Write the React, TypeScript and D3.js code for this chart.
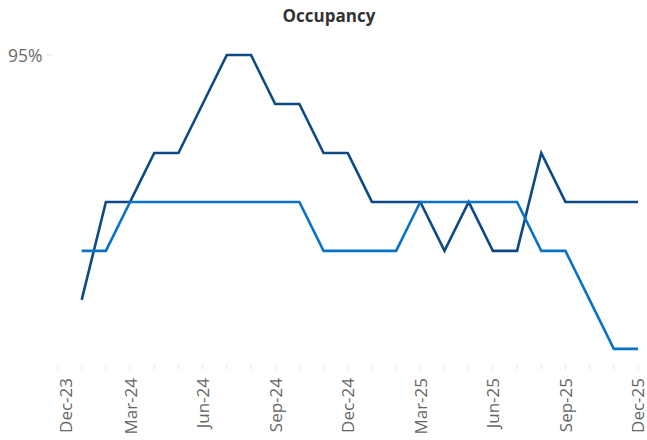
import * as d3 from 'd3';

// Monthly points, Jan-24 .. Dec-25 (index 0..23), Dec-23 = index -1
const monthIdx = d3.range(0, 24);
const seriesDark = [90, 92, 92, 93, 93, 94, 95, 95, 94, 94, 93, 93, 92, 92, 92, 91, 92, 91, 91, 93, 92, 92, 92, 92];
const seriesLight = [91, 91, 92, 92, 92, 92, 92, 92, 92, 92, 91, 91, 91, 91, 92, 92, 92, 92, 92, 91, 91, 90, 89, 89];
const tickLabels = ['Dec-23', 'Mar-24', 'Jun-24', 'Sep-24', 'Dec-24', 'Mar-25', 'Jun-25', 'Sep-25', 'Dec-25'];
const tickIdx = [-1, 2, 5, 8, 11, 14, 17, 20, 23];
const yMax = 95;

const W = 647;
const H = 440;
const font = "'Open Sans', 'DejaVu Sans', sans-serif";

export default function App() {
    const x = d3.scaleLinear().domain([-1, 23]).range([57.5, 638]);
    const y = d3.scaleLinear().domain([88.63, yMax]).range([367, 55]);

    const line = d3.line<number>()
        .x((_d, i) => x(monthIdx[i]))
        .y(d => y(d));

    const axisY = 367;

    return (
        <svg width={W} height={H} style={{ position: 'absolute', left: 0, top: 0, background: '#fff' }}>
            {/* Title */}
            <text x={329} y={22} textAnchor="middle" fontFamily={font} fontSize={17} fontWeight={700} fill="#333">
                Occupancy
            </text>

            {/* Y axis: only the top value is labelled */}
            <text x={8} y={y(yMax)} dominantBaseline="central" fontFamily={font} fontSize={17.5} fill="#6b6b6b">
                {yMax}%
            </text>
            <line x1={47} x2={52} y1={y(yMax)} y2={y(yMax)} stroke="#e3e3e3" />

            {/* Monthly tick marks */}
            {d3.range(-1, 24).map(i => (
                <line key={i} x1={x(i)} x2={x(i)} y1={axisY - 2} y2={axisY + 3} stroke="#e8e8e8" />
            ))}

            {/* Quarterly labels, rotated; kept inside the chart edges */}
            {tickIdx.map((t, i) => {
                const cx = Math.min(Math.max(x(t), 65), W - 10);
                return (
                    <text
                        key={t}
                        transform={`translate(${cx},${378}) rotate(-90)`}
                        textAnchor="end"
                        dominantBaseline="central"
                        fontFamily={font}
                        fontSize={17}
                        fill="#666"
                    >
                        {tickLabels[i]}
                    </text>
                );
            })}

            <path d={line(seriesDark) || ''} fill="none" stroke="#0d4a85" strokeWidth={2.6} />
            <path d={line(seriesLight) || ''} fill="none" stroke="#0a73c6" strokeWidth={2.6} />
        </svg>
    );
}
